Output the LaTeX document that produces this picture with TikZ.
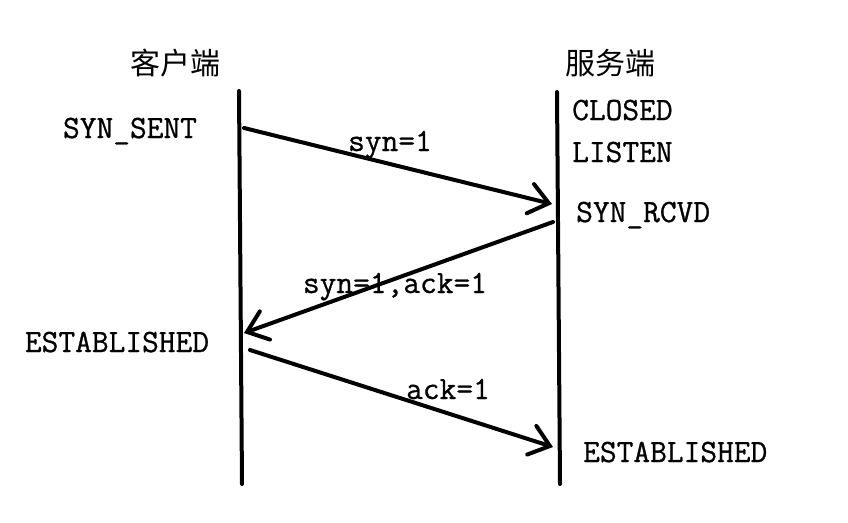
\documentclass[tikz,border=0pt]{standalone}
\usepackage{fontspec}
\newfontfamily\cjk{Noto Sans CJK SC}
\newfontfamily\statefont{Latin Modern Mono}[FakeBold=0.8]
\usetikzlibrary{arrows.meta}
\pgfdeclarelayer{nodelayer}
\pgfdeclarelayer{edgelayer}
\pgfsetlayers{nodelayer, edgelayer, main}

\begin{document}
\begin{tikzpicture} [x=1pt,y=-1pt,
    state/.style={font=\fontsize{32.5}{36}\selectfont\statefont, inner sep=0pt, anchor=base},
    side/.style={font=\fontsize{30}{34}\selectfont\cjk, inner sep=0pt},
    wire/.style={line width=4pt, line cap=round},
    msg/.style={wire, -{Straight Barb[length=19pt,width=30pt,line cap=round]}}]
    \useasboundingbox (0,0) rectangle (848,522);
	\begin{pgfonlayer}{nodelayer}
        \node[side] (client) at (175,63) {客户端};
        \node[side] (server) at (610,63) {服务端};
        \node[state] (synsent) at (130,138) {SYN\_SENT};
        \node[state,anchor=base west] (closed) at (572,120) {CLOSED};
        \node[state,anchor=base west] (listen) at (572,162) {LISTEN};
        \node[state,anchor=base west] (synrcvd) at (576,222) {SYN\_RCVD};
        \node[state] (estc) at (117,352) {ESTABLISHED};
        \node[state,anchor=base west] (ests) at (583,462) {ESTABLISHED};
        \node[state] (m1) at (390,151) {syn=1};
        \node[state] (m2) at (395,293) {syn=1,ack=1};
        \node[state] (m3) at (448,399) {ack=1};
	\end{pgfonlayer}
	\begin{pgfonlayer}{edgelayer}
        \coordinate (ctop) at (239,91);
        \coordinate (cbot) at (242,484);
        \coordinate (stop) at (557,92);
        \coordinate (sbot) at (560,484);
        \coordinate (a1) at (244,128);
        \coordinate (b1) at (552,204);
        \coordinate (a2) at (553,222);
        \coordinate (b2) at (244,333);
        \coordinate (a3) at (250,350);
        \coordinate (b3) at (553,447);
        \draw[wire] (ctop) -- (cbot);
        \draw[wire] (stop) -- (sbot);
        \draw[msg] (a1) -- (b1);
        \draw[msg] (a2) -- (b2);
        \draw[msg] (a3) -- (b3);
	\end{pgfonlayer}
    \end{tikzpicture}
\end{document}
